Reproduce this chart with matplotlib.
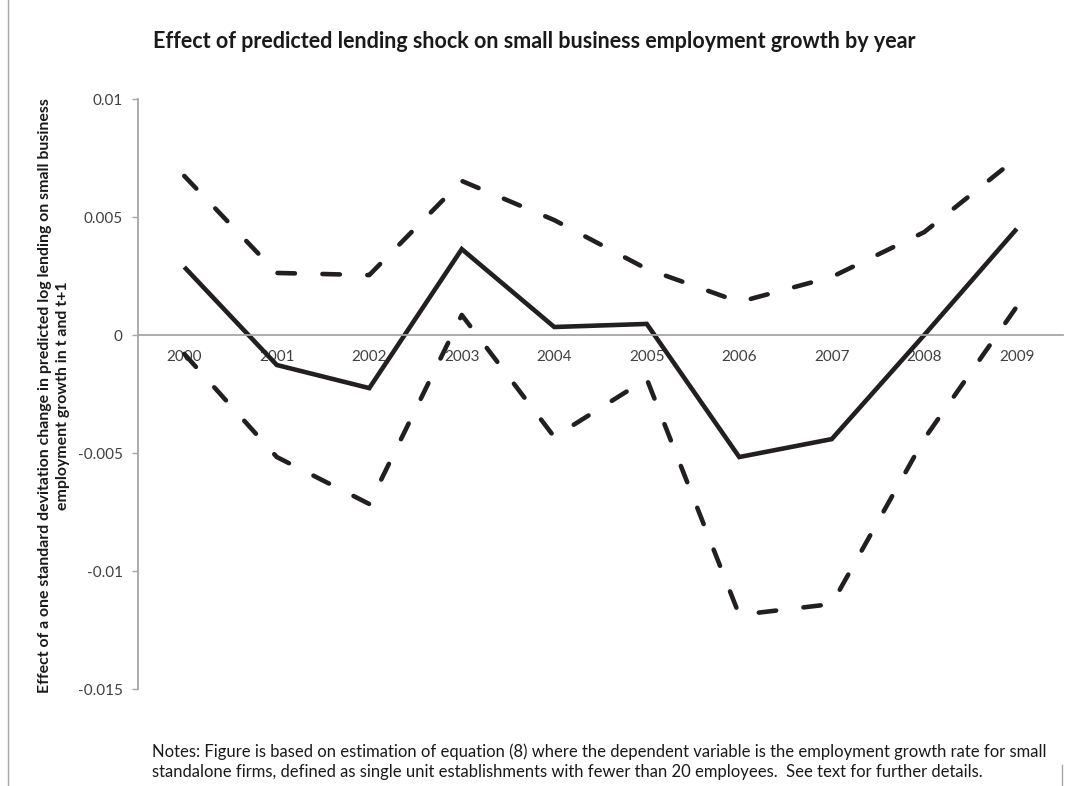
import numpy as np
import matplotlib
matplotlib.use("Agg")
import matplotlib.pyplot as plt
from matplotlib.lines import Line2D

# ---- data: point estimate and 90% band, by year ----
years = ["2000", "2001", "2002", "2003", "2004", "2005", "2006", "2007", "2008", "2009"]
effect = [0.00288, -0.00127, -0.00225, 0.00364, 0.00034, 0.00047, -0.00517, -0.00441, 0.0000, 0.00450]
upper = [0.00674, 0.00263, 0.00254, 0.00653, 0.00487, 0.00280, 0.00140, 0.00246, 0.00436, 0.00750]
lower = [-0.00080, -0.00517, -0.00716, 0.00085, -0.00432, -0.00186, -0.01186, -0.01140, -0.00440, 0.00120]

yticks = [-0.015, -0.01, -0.005, 0, 0.005, 0.01]
ytick_labels = ["-0.015", "-0.01", "-0.005", "0", "0.005", "0.01"]

plt.rcParams["font.family"] = ["Lato", "DejaVu Sans"]

LINE = "#231f20"
AXIS = "#a6a6a6"
TXT = "#404040"

fig = plt.figure(figsize=(10.71, 7.86), dpi=100)
ax = fig.add_axes([0.1289, 0.1234, 0.8636, 0.7506])

x = np.arange(len(years))
lw = 3.3
ax.plot(x, effect, color=LINE, lw=lw, solid_joinstyle="miter", solid_capstyle="butt")
for band in (upper, lower):
    ln, = ax.plot(x, band, color=LINE, lw=lw, dash_capstyle="round", dash_joinstyle="round")
    ln.set_dashes((3.8, 6.0))

ax.set_xlim(-0.5, len(years) - 0.5)
ax.set_ylim(-0.015, 0.01)
ax.set_yticks(yticks)
ax.set_yticklabels(ytick_labels)
ax.set_xticks(x)
ax.set_xticklabels(years)

ax.spines["top"].set_visible(False)
ax.spines["right"].set_visible(False)
ax.spines["bottom"].set_position(("data", 0))
for s in ("left", "bottom"):
    ax.spines[s].set_color(AXIS)
    ax.spines[s].set_linewidth(1.3)

ax.tick_params(axis="y", direction="out", length=4, width=1.0, color=AXIS,
               pad=7, labelsize=11, labelcolor=TXT)
ax.tick_params(axis="x", length=0, pad=11, labelsize=11, labelcolor=TXT)

fig.text(0.499, 0.947, "Effect of predicted lending shock on small business employment growth by year",
         ha="center", va="center", fontsize=15.5, fontweight="bold", color="#1a1a1a")

fig.text(0.0505, 0.497,
         "Effect of a one standard devitation change in predicted log lending on small business\n"
         "employment growth in t and t+1",
         rotation=90, ha="center", va="center", multialignment="center",
         fontsize=11.4, fontweight="bold", color="#1a1a1a", linespacing=1.35)

fig.text(0.142, 0.031,
         "Notes: Figure is based on estimation of equation (8) where the dependent variable is the employment growth rate for small\n"
         "standalone firms, defined as single unit establishments with fewer than 20 employees.  See text for further details.",
         ha="left", va="center", fontsize=12, color="#1a1a1a", linespacing=1.26)

# chart-area frame edges
fig.add_artist(Line2D([8 / 1071, 8 / 1071], [0, 1], transform=fig.transFigure, color=AXIS, lw=1.0))
fig.add_artist(Line2D([1062 / 1071, 1062 / 1071], [0, 0.027], transform=fig.transFigure, color=AXIS, lw=1.0))

fig.savefig("out.png", dpi=100, facecolor="white")
